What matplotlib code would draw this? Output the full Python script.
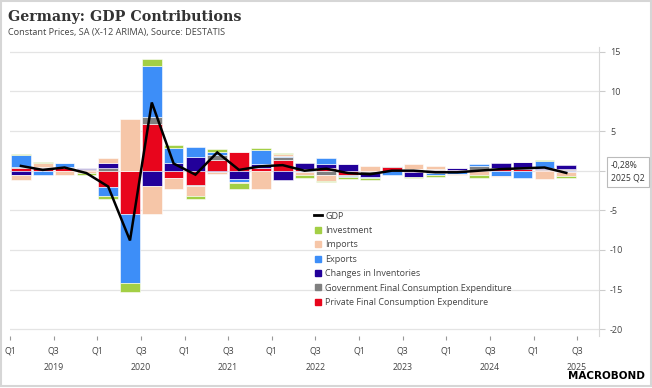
import numpy as np
import matplotlib
matplotlib.use('Agg')
from matplotlib import pyplot as plt
from matplotlib.lines import Line2D
from matplotlib.patches import Rectangle

quarters = ['2019 Q1', '2019 Q2', '2019 Q3', '2019 Q4', '2020 Q1', '2020 Q2', '2020 Q3', '2020 Q4',
            '2021 Q1', '2021 Q2', '2021 Q3', '2021 Q4', '2022 Q1', '2022 Q2', '2022 Q3', '2022 Q4',
            '2023 Q1', '2023 Q2', '2023 Q3', '2023 Q4', '2024 Q1', '2024 Q2', '2024 Q3', '2024 Q4',
            '2025 Q1', '2025 Q2']

# contributions to q/q GDP growth, percentage points
private = [0.35, 0.3, 0.3, 0.05, -2.1, -5.45, 5.85, -0.95, -1.8, 1.3, 2.35, 0.4, 1.35,
           0.2, 0.4, -0.6, -0.1, 0.5, -0.15, 0.1, 0.1, 0.1, 0.2, 0.15, 0.1, 0.1]
government = [0.1, 0.15, 0.2, 0.1, 0.4, 0.0, 0.95, 0.0, -0.1, 0.65, 0.0, 0.0, 0.35,
              0.05, -0.5, -0.1, -0.15, 0.1, 0.2, 0.1, -0.1, 0.5, 0.2, 0.05, 0.05, 0.15]
inventories = [-0.6, -0.05, 0.0, 0.2, 0.6, 0.0, -1.9, 1.0, 1.75, -0.2, -1.0, 0.4, -1.2,
               0.7, 0.5, 0.8, -0.5, 0.05, -0.6, -0.3, 0.3, 0.0, 0.6, 0.9, 0.15, 0.5]
exports = [1.5, -0.55, 0.5, 0.0, -1.1, -8.7, 6.4, 1.8, 1.25, 0.4, -0.45, 1.8, 0.2,
           -0.2, 0.75, -0.15, -0.2, -0.6, 0.0, -0.3, -0.35, 0.2, -0.7, -0.9, 0.95, -0.15]
imports = [-0.6, 0.5, -0.5, -0.3, 0.6, 6.5, -3.6, -1.4, -1.25, -0.2, -0.15, -2.3, 0.15,
           -0.4, -0.8, 0.0, 0.55, 0.0, 0.7, 0.4, -0.1, -0.6, -0.05, 0.0, -1.0, -0.5]
investment = [0.1, 0.1, 0.0, -0.25, -0.4, -1.2, 0.85, 0.5, -0.45, 0.4, -0.7, 0.2, 0.2,
              -0.3, -0.1, -0.2, -0.2, 0.0, -0.2, -0.2, 0.0, -0.3, -0.1, 0.0, 0.15, -0.3]
gdp = [0.6, 0.1, 0.4, -0.3, -2.0, -8.8, 8.6, 0.9, -0.5, 2.3, 0.1, 0.55, 0.7,
       0.0, 0.25, -0.3, -0.45, 0.0, 0.0, -0.2, -0.2, 0.0, 0.2, 0.3, 0.4, -0.28]

# stacking order from zero outwards
series = [
    ('Private Final Consumption Expenditure', private, '#e8051c'),
    ('Government Final Consumption Expenditure', government, '#808080'),
    ('Changes in Inventories', inventories, '#22009a'),
    ('Exports', exports, '#3d8ef8'),
    ('Imports', imports, '#f6c6a8'),
    ('Investment', investment, '#a3cf45'),
]

W, H = 652, 388
fig = plt.figure(figsize=(W / 100, H / 100), dpi=100)
fig.patches.append(Rectangle((0.002, 0.004), 0.996, 0.993, transform=fig.transFigure,
                             fill=False, ec='#d6d6d6', lw=1.5))

ax = fig.add_axes([10 / W, 1 - 336 / H, 589 / W, 289 / H])
x = np.arange(len(quarters)) + 0.5

pos = np.zeros(len(quarters))
neg = np.zeros(len(quarters))
for name, vals, col in series:
    v = np.array(vals)
    b = np.where(v >= 0, pos, neg)
    ax.bar(x, v, 0.9, bottom=b, color=col, edgecolor='white', linewidth=0.4, zorder=2)
    pos += np.where(v >= 0, v, 0)
    neg += np.where(v < 0, v, 0)

ax.plot(x, gdp, color='black', lw=1.8, zorder=3, solid_joinstyle='miter')

ax.set_xlim(0, 27)
ax.set_ylim(-20.85, 15.6)
ax.set_yticks(range(-20, 16, 5))
ax.set_yticklabels([str(t) if t != 0 else '' for t in range(-20, 16, 5)])
ax.yaxis.tick_right()
ax.grid(axis='y', color='#e4e4e4', lw=0.9, zorder=0)
for s in ['top', 'left', 'bottom']:
    ax.spines[s].set_visible(False)
ax.spines['right'].set_color('#d8d8d8')
ax.tick_params(axis='y', length=4, color='#cccccc', labelsize=6.5, labelcolor='#444444', pad=4)

xt = np.arange(0, 27, 2)
ax.set_xticks(xt)
ax.set_xticklabels(['Q1' if t % 4 == 0 else 'Q3' for t in xt])
ax.tick_params(axis='x', length=3, color='#999999', labelsize=6.3, labelcolor='#444444', pad=4.5)
for k, yr in enumerate(range(2019, 2026)):
    ax.text(4 * k + 2, -0.108, str(yr), transform=ax.get_xaxis_transform(),
            ha='center', va='center', fontsize=6.3, color='#444444')

for t in ax.get_xticklabels() + ax.get_yticklabels() + ax.texts:
    t.set_family('Open Sans')

handles = [Line2D([], [], color='black', lw=2)]
for name, vals, col in series[::-1]:
    handles.append(Line2D([], [], ls='none', marker='s', ms=4.5, mfc=col, mec=col))
labels = ['GDP'] + [s[0] for s in series[::-1]]
leg = ax.legend(handles, labels, loc='upper left', bbox_to_anchor=(309 / W, 1 - 207 / H),
                bbox_transform=fig.transFigure, frameon=False,
                handlelength=0.9, handletextpad=0.4, labelspacing=0.6, borderpad=0,
                prop={'family': 'Open Sans', 'size': 6.5})
for t in leg.get_texts():
    t.set_color('#444444')

fig.text(8 / W, 1 - 17 / H, 'Germany: GDP Contributions', fontsize=10.3, weight='bold',
         family='DejaVu Serif', color='#333333', va='center', ha='left')
fig.text(8 / W, 1 - 33 / H, 'Constant Prices, SA (X-12 ARIMA), Source: DESTATIS',
         fontsize=6.6, family='Open Sans', color='#444444', va='center', ha='left')

fig.text(611 / W, 1 - 172 / H, '-0,28%\n2025 Q2', fontsize=6.2, family='Open Sans',
         color='#333333', va='center', ha='left', linespacing=1.55,
         bbox=dict(boxstyle='square,pad=0.45', fc='white', ec='#bbbbbb', lw=0.8))

fig.text(645 / W, 1 - 376 / H, 'MACROBOND', fontsize=7.5, weight='heavy',
         color='black', va='center', ha='right')

fig.savefig('out.png', dpi=100)
